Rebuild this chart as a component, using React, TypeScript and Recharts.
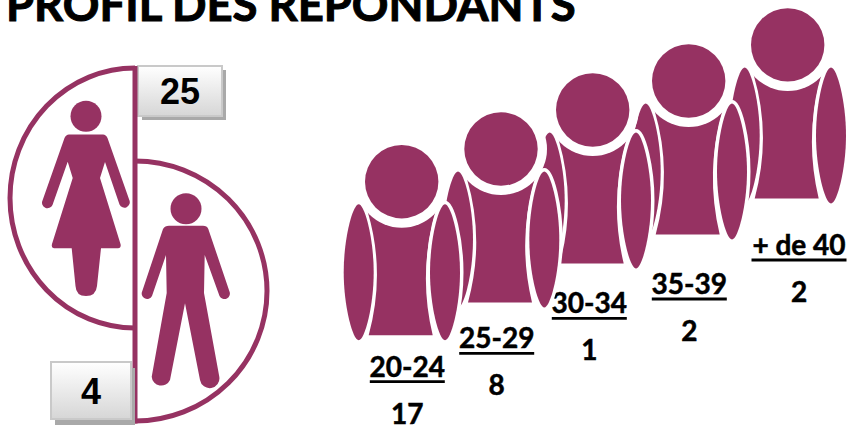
import React from "react";
import { BarChart, Bar, LineChart, Line, XAxis, YAxis } from "recharts";

const WIDTH = 848;
const HEIGHT = 425;
const PLUM = "#963262";
const LABEL_FONT = "Lato, sans-serif";

const genders = ["Femmes", "Hommes"];
const genderCounts = [25, 4];

const ageGroups = ["20-24", "25-29", "30-34", "35-39", "+ de 40"];
const ageCounts = [17, 8, 1, 2, 2];

// stacked back to front: the oldest group has to be painted first
const ageRows = ageGroups
  .map((age, i) => ({ age, count: ageCounts[i], rank: i, idx: i }))
  .reverse();
const genderRows = genders.map((gender, i) => ({ gender, count: genderCounts[i] }));

// hand tweaks, the figures are not quite evenly spaced in the original
const figureNudge = [[0, 0], [2.8, 1.5], [-2, -3.3], [-2.5, 1.9], [0, 0]];
const labelNudge = [[5.6, 195], [-1.5, 200.8], [-5.4, 200], [-1.9, 214.9], [11.3, 210.1]];

const LENS = "M0 -68 C-6 -68 -15 -34 -15 0 C-15 34 -6 68 0 68 C6 68 15 34 15 0 C15 -34 6 -68 0 -68 Z";

function AgeFigure(props: any) {
  const { cx, cy, payload } = props;
  const [fx, fy] = figureNudge[payload.idx];
  const [lx, ly] = labelNudge[payload.idx];
  const x = cx + lx;
  const y = cy + ly;
  const underlineW = payload.age.startsWith("+") ? 95 : 75;
  const textProps = {
    x,
    textAnchor: "middle" as const,
    fontFamily: LABEL_FONT,
    fontWeight: 700,
    fontSize: 28,
    fill: "#000",
    stroke: "#000",
    strokeWidth: 0.5,
  };
  return (
    <g key={payload.age}>
      <g transform={`translate(${cx + fx}, ${cy + fy})`}>
        <path d="M-34 30 Q-16 91 -33 153.5 L31 153.5 Q16 91 34 30 Z" fill={PLUM} />
        <g transform="translate(-43, 90.5)">
          <path d={LENS} fill={PLUM} />
        </g>
        <g transform="translate(43.3, 90.5)">
          <path d={LENS} fill={PLUM} stroke="#fff" strokeWidth={7} paintOrder="stroke" />
        </g>
        <circle r={46} fill="#fff" />
        <circle r={36.7} fill={PLUM} />
      </g>
      <text {...textProps} y={y}>
        {payload.age}
      </text>
      <line x1={x - underlineW / 2} x2={x + underlineW / 2} y1={y + 5} y2={y + 5} stroke="#000" strokeWidth={2.8} />
      <text {...textProps} y={y + 47}>
        {payload.count}
      </text>
    </g>
  );
}

const WOMAN =
  "M69 134.5 L103 134.5 Q106 134.5 107.5 138 L129.3 200 A5.3 5.3 0 0 1 119.5 204.5 L105 162 L100 178 L120.5 244 Q121.5 248 118 248.3 L101 248.3 L97 286 Q96 296 86 296 Q76 296 75.5 286 L71.7 248.3 L54 248.3 Q51 248 52 244 L72.7 178 L67.7 161.7 L52.5 205 A5.3 5.3 0 0 1 42.5 200.5 L64.5 138 Q66 134.5 69 134.5 Z";
const MAN =
  "M169 225.7 L203 225.7 Q207 225.7 208.3 229 L229.3 291 A5.3 5.3 0 0 1 219.5 296 L204.7 255 L204 293 L219.3 376.7 A9.6 9.6 0 0 1 200 380 L185 303.3 L170 380 A9.6 9.6 0 0 1 151.7 376.7 L166.7 293 L166 255 L152 296 A5.3 5.3 0 0 1 142.3 291 L163 229 Q165 225.7 169 225.7 Z";

function CountBox({ x, y, w, h, dy, value, id }: any) {
  return (
    <g>
      <rect x={x + 4} y={y + dy} width={w} height={h} fill="#a9a9a9" />
      <defs>
        <linearGradient id={id} x1="0" y1="0" x2="0" y2="1">
          <stop offset="0" stopColor="#ffffff" />
          <stop offset="1" stopColor="#d6d6d6" />
        </linearGradient>
      </defs>
      <rect x={x} y={y} width={w} height={h} fill={`url(#${id})`} stroke="#c9c9c9" strokeWidth={2} />
      <text
        x={x + w / 2}
        y={y + h / 2 + 13}
        textAnchor="middle"
        fontFamily="'Liberation Sans', Arial, sans-serif"
        fontWeight={700}
        fontSize={36}
        fill="#000"
      >
        {value}
      </text>
    </g>
  );
}

// bar starts on the spine between the two half discs, its length is not used
function GenderHalf(props: any) {
  const { x, y, height, payload } = props;
  const cy = y + height / 2;
  if (payload.gender === "Femmes") {
    return (
      <g transform={`translate(${x - 135}, ${cy - 198})`}>
        <path d="M135 68 A125 130 0 0 0 135 328" fill="#fff" stroke={PLUM} strokeWidth={5} />
        <circle cx={86} cy={116.3} r={15.5} fill={PLUM} />
        <path d={WOMAN} fill={PLUM} />
        <CountBox x={138} y={66} w={84} h={50} dy={4} value={payload.count} id="boxF" />
      </g>
    );
  }
  return (
    <g transform={`translate(${x - 135}, ${cy - 291})`}>
      <path d="M135 161 A132 130 0 0 1 135 421" fill="#fff" stroke={PLUM} strokeWidth={5} />
      <circle cx={186} cy={208.7} r={15.5} fill={PLUM} />
      <path d={MAN} fill={PLUM} />
      <line x1={135} x2={135} y1={66} y2={423.5} stroke={PLUM} strokeWidth={5} />
      <CountBox x={51} y={362} w={80} h={57} dy={6} value={payload.count} id="boxH" />
    </g>
  );
}

export default function App() {
  return (
    <div style={{ position: "absolute", left: 0, top: 0, width: WIDTH, height: HEIGHT, overflow: "hidden", background: "#fff" }}>
      <svg width={WIDTH} height={40} style={{ position: "absolute", left: 0, top: 0 }}>
        <text x={6} y={20.5} fontFamily={LABEL_FONT} fontWeight={700} fontSize={45.4} fill="#000" stroke="#000" strokeWidth={1}>
          PROFIL DES RÉPONDANTS
        </text>
      </svg>

      <div style={{ position: "absolute", left: 0, top: 0 }}>
        <LineChart
          width={WIDTH}
          height={HEIGHT}
          data={ageRows}
          margin={{ top: 44.9, right: 60.3, bottom: 243.3, left: 401.7 }}
        >
          <XAxis dataKey="age" hide reversed />
          <YAxis hide domain={[0, 4]} />
          <Line
            dataKey="rank"
            stroke="none"
            isAnimationActive={false}
            dot={(p: any) => <AgeFigure key={p.payload.age} {...p} />}
          />
        </LineChart>
      </div>

      <div style={{ position: "absolute", left: 0, top: 0 }}>
        <BarChart
          layout="vertical"
          width={300}
          height={HEIGHT}
          data={genderRows}
          barCategoryGap={0}
          margin={{ top: 151.5, right: 0, bottom: 87.5, left: 135 }}
        >
          <XAxis type="number" hide domain={[0, 25]} />
          <YAxis type="category" dataKey="gender" hide />
          <Bar dataKey="count" isAnimationActive={false} shape={GenderHalf} />
        </BarChart>
      </div>
    </div>
  );
}
